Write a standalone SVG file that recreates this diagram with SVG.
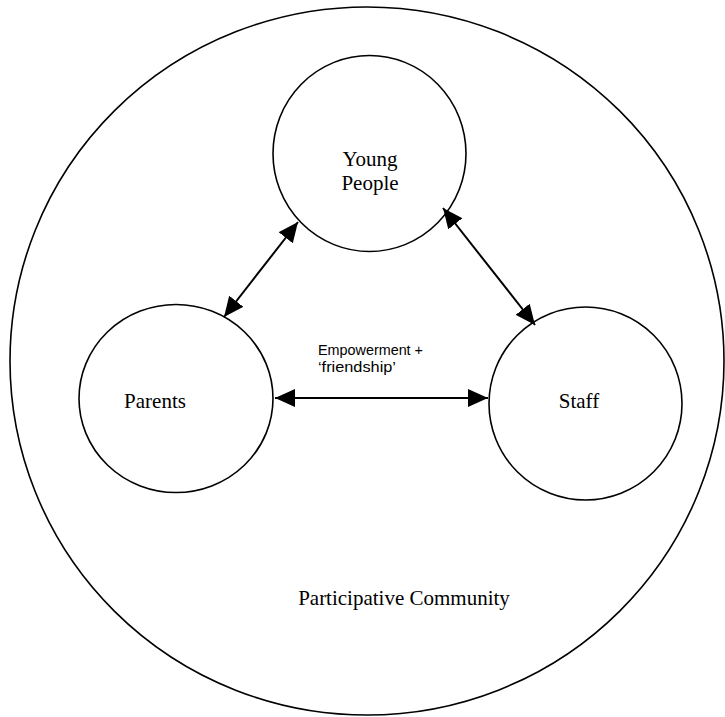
<svg xmlns="http://www.w3.org/2000/svg" width="725" height="717" viewBox="0 0 725 717">
  <style>
    .ring { fill: none; stroke: #000; stroke-width: 1.6; }
    .label { font-family: "Liberation Serif", "Times New Roman", serif; font-size: 21px; fill: #000; text-anchor: middle; }
    .note { font-family: "Liberation Sans", Arial, sans-serif; font-size: 15px; fill: #000; }
    .link { stroke: #000; stroke-width: 2; fill: none; marker-start: url(#head); marker-end: url(#head); }
  </style>
  <defs>
    <marker id="head" markerUnits="userSpaceOnUse" markerWidth="22" markerHeight="20" refX="20" refY="9" orient="auto-start-reverse">
      <path d="M0,0 L20,9 L0,18 Z" fill="#000"/>
    </marker>
  </defs>
  <rect width="725" height="717" fill="#fff"/>

  <g id="community">
    <ellipse class="ring" cx="367" cy="361" rx="357" ry="354"/>
    <text class="label" x="404" y="605">Participative Community</text>
  </g>

  <g id="young-people">
    <ellipse class="ring" cx="369.5" cy="153.5" rx="96.5" ry="98"/>
    <text class="label" x="370" y="166">Young</text>
    <text class="label" x="370" y="190">People</text>
  </g>

  <g id="parents">
    <ellipse class="ring" cx="176" cy="398.5" rx="97" ry="94"/>
    <text class="label" x="155" y="408">Parents</text>
  </g>

  <g id="staff">
    <ellipse class="ring" cx="585.5" cy="403.5" rx="96.5" ry="96.5"/>
    <text class="label" x="579" y="408">Staff</text>
  </g>

  <g id="connectors">
    <line class="link" x1="298" y1="222" x2="224" y2="317"/>
    <line class="link" x1="443" y1="208" x2="535" y2="325"/>
    <line class="link" x1="275" y1="398" x2="488" y2="398"/>
    <text class="note" x="318" y="355" textLength="105" lengthAdjust="spacingAndGlyphs">Empowerment +</text>
    <text class="note" x="318" y="372" textLength="78" lengthAdjust="spacingAndGlyphs">‘friendship’</text>
  </g>
</svg>
